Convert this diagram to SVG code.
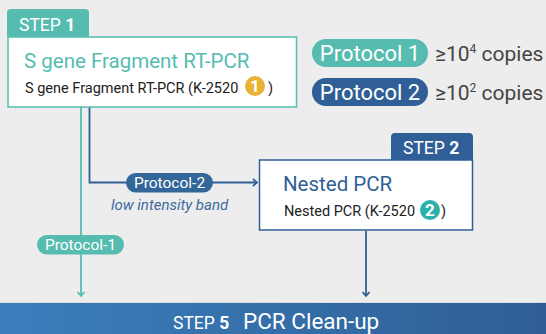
<svg xmlns="http://www.w3.org/2000/svg" width="546" height="334" viewBox="0 0 546 334">
<style>
text{font-family:Roboto,"Noto Sans",sans-serif}
.teal{fill:#56bcb0}.navy{fill:#2f5f96}
.w{fill:#fff}
.d{fill:#222}
.g{fill:#444}
.s{font-size:14.5px}
.p{font-size:22px;fill:#fff}
.c{font-size:21px;fill:#444}
.l{font-size:15.5px;fill:#fff}
</style>
<defs>
<linearGradient id="bar" x1="0" x2="1" y1="0" y2="0"><stop offset="0" stop-color="#3a7fbc"/><stop offset="1" stop-color="#2f5e95"/></linearGradient>
<marker id="at" markerUnits="userSpaceOnUse" markerWidth="10" markerHeight="10" refX="8" refY="5" orient="auto"><path d="M4 1.5 8 5 4 8.500" fill="none" stroke="#56bcb0" stroke-width="1.800"/></marker>
<marker id="an" markerUnits="userSpaceOnUse" markerWidth="10" markerHeight="10" refX="8" refY="5" orient="auto"><path d="M4 1.500 8 5 4 8.500" fill="none" stroke="#2f5f96" stroke-width="1.800"/></marker>
</defs>
<rect width="546" height="334" fill="#ededed"/>
<g id="connectors" fill="none" stroke-width="1.800">
<path d="M81 107V296" stroke="#56bcb0" marker-end="url(#at)"/>
<path d="M89.500 107V182.500H257" stroke="#2f5f96" marker-end="url(#an)"/>
<path d="M366 231V296" stroke="#2f5f96" marker-end="url(#an)"/>
</g>
<g id="step1">
<path d="M7 37V13a4 4 0 0 1 4-4H85a4 4 0 0 1 4 4V37Z" class="teal"/>
<rect x="8" y="37" width="288.500" height="70" fill="#fff" stroke="#56bcb0" stroke-width="1.500"/>
<text x="19" y="31" class="w" font-size="17.500">STEP <tspan font-weight="700">1</tspan></text>
<text x="24" y="68" class="teal" font-size="20.500">S gene Fragment RT-PCR</text>
<text x="25" y="93" class="d s">S gene Fragment RT-PCR (K-2520</text>
<circle cx="255" cy="86" r="10" fill="#e9b234"/>
<text x="255" y="92" class="w" font-size="17" font-weight="700" text-anchor="middle">1</text>
<text x="268" y="93" class="d s">)</text>
</g>
<g id="legend-protocol1">
<rect x="312" y="39" width="116" height="28" rx="14" class="teal"/>
<text x="370" y="61" class="p" text-anchor="middle">Protocol 1</text>
<text x="435" y="61" class="c">≥10<tspan font-size="12" dy="-8">4</tspan><tspan dy="8"> copies</tspan></text>
</g>
<g id="legend-protocol2">
<rect x="312" y="78" width="116" height="28" rx="14" class="navy"/>
<text x="370" y="100" class="p" text-anchor="middle">Protocol 2</text>
<text x="435" y="100" class="c">≥10<tspan font-size="12" dy="-8">2</tspan><tspan dy="8"> copies</tspan></text>
</g>
<g id="step2">
<path d="M391 160V137a4 4 0 0 1 4-4H469a4 4 0 0 1 4 4V160Z" class="navy"/>
<rect x="259.500" y="160" width="213" height="70" fill="#fff" stroke="#2f5f96" stroke-width="1.500"/>
<text x="403" y="154" class="w" font-size="17.500">STEP <tspan font-weight="700">2</tspan></text>
<text x="283" y="191" class="navy" font-size="20.500">Nested PCR</text>
<text x="284" y="216" class="d s">Nested PCR (K-2520</text>
<circle cx="430" cy="210" r="10" fill="#2ab1ae"/>
<text x="430" y="216" class="w" font-size="17" font-weight="700" text-anchor="middle">2</text>
<text x="441" y="216" class="d s">)</text>
</g>
<g id="label-protocol2">
<rect x="126" y="173" width="87" height="19.500" rx="9.750" fill="#336699"/>
<text x="169.500" y="188" class="l" text-anchor="middle">Protocol-2</text>
<text x="169.500" y="210" fill="#3d6a9c" font-size="15" font-style="italic" text-anchor="middle">low intensity band</text>
</g>
<g id="label-protocol1">
<rect x="37" y="235" width="87" height="19.500" rx="9.750" class="teal"/>
<text x="80.500" y="250" class="l" text-anchor="middle">Protocol-1</text>
</g>
<g id="step5">
<rect y="303" width="546" height="31" fill="url(#bar)"/>
<rect y="302" width="546" height="1" fill="#ddd"/>
<text x="173" y="329" class="w" font-size="17.500">STEP <tspan font-weight="700">5</tspan></text>
<text x="243" y="329" class="w" font-size="22.500">PCR Clean-up</text>
</g>
</svg>
